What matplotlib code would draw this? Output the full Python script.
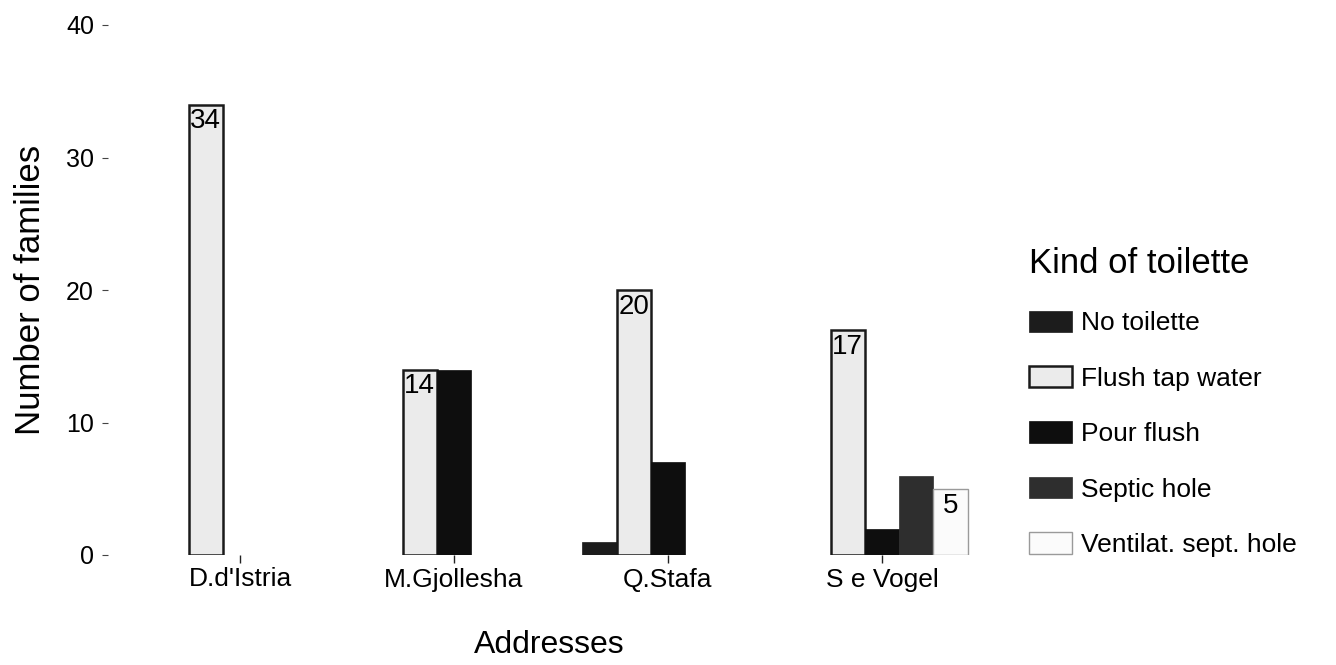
import numpy as np
import matplotlib
matplotlib.use("Agg")
import matplotlib.pyplot as plt

plt.rcParams['font.family'] = ['Liberation Sans', 'DejaVu Sans']

addresses = ["D.d'Istria", "M.Gjollesha", "Q.Stafa", "S e Vogel"]
kinds = ["No toilette", "Flush tap water", "Pour flush", "Septic hole", "Ventilat. sept. hole"]

no_toilette = [0, 0, 1, 0]
flush_tap_water = [34, 14, 20, 17]
pour_flush = [0, 14, 7, 2]
septic_hole = [0, 0, 0, 6]
ventilat_sept_hole = [0, 0, 0, 5]
series = [no_toilette, flush_tap_water, pour_flush, septic_hole, ventilat_sept_hole]

# grey fills, light kinds carry a value label
fills = ["#1c1c1c", "#ebebeb", "#0e0e0e", "#2e2e2e", "#fbfbfb"]
edges = ["#1c1c1c", "#1a1a1a", "#0e0e0e", "#2e2e2e", "#9a9a9a"]
edge_w = [0.5, 1.8, 0.5, 0.5, 1.0]
labelled = [False, True, False, False, True]

fig = plt.figure(figsize=(13.36, 6.65), dpi=100)
ax = fig.add_axes([108 / 1336, 1 - 555 / 665, (990 - 108) / 1336, 530 / 665])

x = np.arange(1, len(addresses) + 1)
n = len(kinds)
total_w = 0.8
w = total_w / n
for i, (vals, kind) in enumerate(zip(series, kinds)):
    vals = np.asarray(vals)
    pos = x - total_w / 2 + w * (i + 0.5)
    keep = vals > 0
    ax.bar(pos[keep], vals[keep], width=w, color=fills[i], edgecolor=edges[i],
           linewidth=edge_w[i], label=kind)
    if labelled[i]:
        for p, v in zip(pos[keep], vals[keep]):
            ax.text(p, v - 0.3, str(v), ha='center', va='top',
                    fontsize=20, color='black')

ax.set_xlim(0.383, 4.505)
ax.set_ylim(0, 40)
ax.set_xticks(x)
ax.set_xticklabels(addresses, fontsize=19)
ax.set_yticks([0, 10, 20, 30, 40])
ax.set_yticklabels(['0', '10', '20', '30', '40'], fontsize=18)
ax.tick_params(axis='y', length=4, width=0.8, pad=6, color='#444')
ax.tick_params(axis='x', length=6, width=1.0, pad=3, color='#222')
for s in ax.spines.values():
    s.set_visible(False)

ax.set_xlabel("Addresses", fontsize=23, labelpad=28)
ax.set_ylabel("Number of families", fontsize=25, labelpad=14)

leg = ax.legend(title="Kind of toilette", loc='center left',
                bbox_to_anchor=(1005 / 1336, 1 - 402 / 665),
                bbox_transform=fig.transFigure, frameon=False,
                fontsize=19, title_fontsize=25, handlelength=1.63,
                handleheight=0.87, handletextpad=0.35, labelspacing=1.16)
leg._legend_box.align = "left"

fig.savefig("out.png", dpi=100, facecolor='white')
